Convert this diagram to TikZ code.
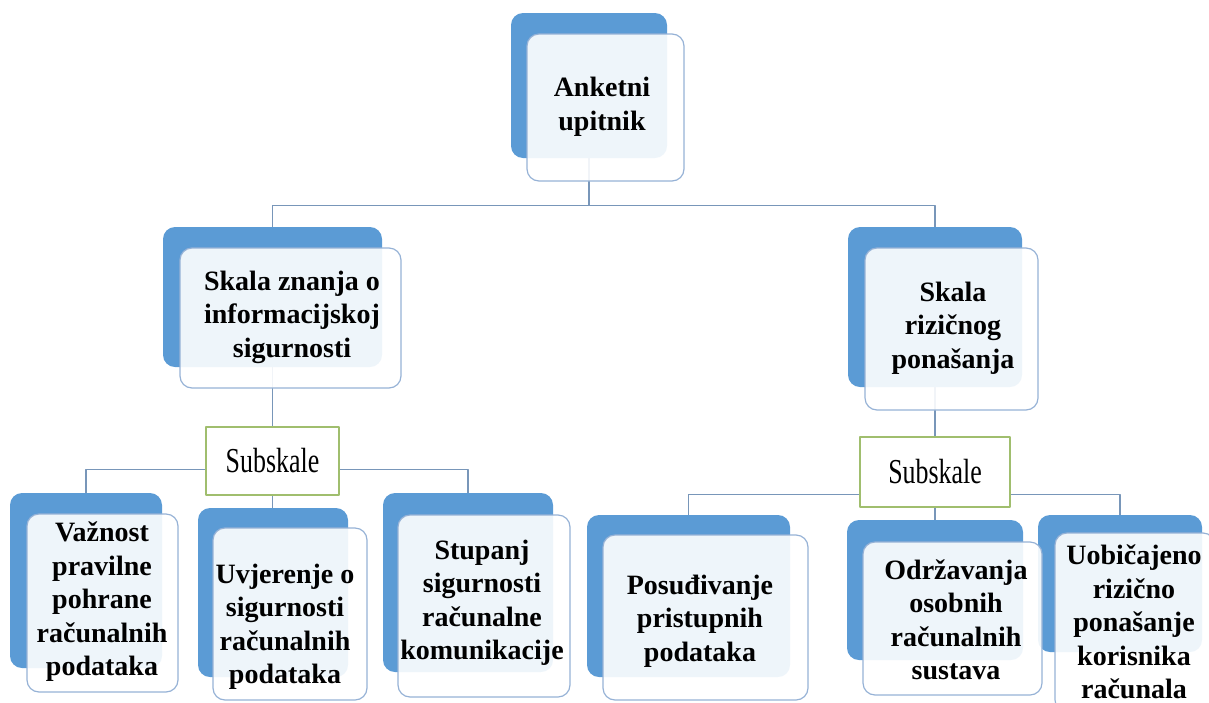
\documentclass[tikz,border=0pt]{standalone}
\usepackage{fontspec}
\setmainfont{Liberation Serif}
\newfontfamily\narrowfont{Liberation Serif}[FakeStretch=0.74]
\usetikzlibrary{fit}
\definecolor{cardblue}{RGB}{91,155,213}
\definecolor{cardedge}{RGB}{150,178,214}
\definecolor{linkgray}{RGB}{120,150,185}
\definecolor{subgreen}{RGB}{160,190,110}
\tikzset{
	back/.style={fill=cardblue, rounded corners=6pt, inner sep=0pt},
	front/.style={draw=cardedge, line width=0.6pt, fill=white, fill opacity=0.9, rounded corners=6pt, inner sep=0pt},
	cardtext/.style={font=\fontsize{14}{16.75}\selectfont\bfseries, align=center, inner sep=0pt},
	subbox/.style={draw=subgreen, line width=0.6pt, fill=white, inner sep=0pt},
	subtext/.style={font=\fontsize{17.5}{19}\selectfont\narrowfont, inner sep=0pt},
	link/.style={draw=linkgray, line width=0.7pt}
}
\begin{document}
\begin{tikzpicture}[x=0.5pt, y=-0.5pt, line join=round]
	\useasboundingbox (0,0) rectangle (1209,702);
	\clip (0,0) rectangle (1209,702);
	% blue backs
	\foreach \n/\xa/\ya/\xb/\yb in {b0/511/13/667/158, b1/163/227/382/367, b2/848/227/1022/387,
		c1/10/493/162/668, c2/198/508/348/677, c3/383/493/553/672,
		c4/587/515/790/677, c5/847/520/1023/660, c6/1038/515/1202/652}{
		\node [back, fit={(\xa,\ya) (\xb,\yb)}] (\n) {};
	}
	% connectors
	\draw [link] (b0.south) -- ++(0,47) coordinate (j0) -| (b1.north) (j0) -| (b2.north);
	\draw [link] (c1.north) -- ++(0,-23) -| (c3.north);
	\draw [link] (c4.north) -- ++(0,-20) -| (c6.north);
	\node [subbox, fit={(206,427) (339,495)}] (s1) {};
	\node [subbox, fit={(860,437) (1010,507)}] (s2) {};
	\node [subtext] (u1) at (s1.center) {Subskale};
	\node [subtext] (u2) at (s2.center) {Subskale};
	\draw [link] (b1.south) -- (b1.south |- s1.north)
		(s1.south) -- (s1.south |- c2.north);
	\draw [link] (b2.south) -- (b2.south |- s2.north)
		(s2.south) -- (s2.south |- c5.north);
	% light fronts
	\foreach \n/\xa/\ya/\xb/\yb in {f0/527/34/684/181, f1/180/248/401/388, f2/865/248/1038/410,
		g1/27/514/178/692, g2/213/528/367/700, g3/398/515/570/697,
		g4/603/535/808/700, g5/863/542/1042/695, g6/1055/533/1215/712}{
		\node [front, fit={(\xa,\ya) (\xb,\yb)}] (\n) {};
	}
	% texts
	\node [cardtext] (t0) at (602,107) {Anketni\\upitnik};
	\node [cardtext] (t1) at (292,317) {Skala znanja o\\informacijskoj\\sigurnosti};
	\node [cardtext] (t2) at (953,328) {Skala\\rizičnog\\ponašanja};
	\node [cardtext] (t3) at (102,602) {Važnost\\pravilne\\pohrane\\računalnih\\podataka};
	\node [cardtext] (t4) at (285,627) {Uvjerenje o\\sigurnosti\\računalnih\\podataka};
	\node [cardtext] (t5) at (482,603) {Stupanj\\sigurnosti\\računalne\\komunikacije};
	\node [cardtext] (t6) at (700,621) {Posuđivanje\\pristupnih\\podataka};
	\node [cardtext] (t7) at (956,620) {Održavanja\\osobnih\\računalnih\\sustava};
	\node [cardtext] (t8) at (1134,622) {Uobičajeno\\rizično\\ponašanje\\korisnika\\računala};
\end{tikzpicture}
\end{document}
